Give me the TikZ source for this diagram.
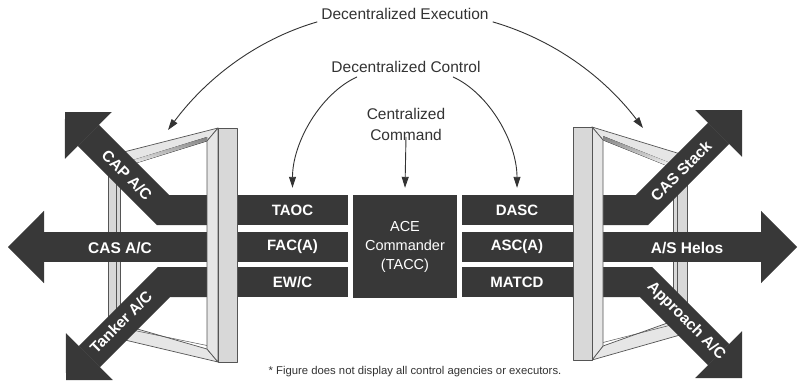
\documentclass[tikz,border=0pt]{standalone}
\usepackage{fontspec}
\setmainfont{Liberation Sans}
\usetikzlibrary{arrows.meta}
\definecolor{band}{HTML}{383838}
\definecolor{framefill}{HTML}{D8D8D8}
\definecolor{framelight}{HTML}{E6E6E6}
\definecolor{frameline}{HTML}{555555}
\definecolor{txt}{HTML}{333333}
\definecolor{shade}{HTML}{666666}
\tikzset{
  bandline/.style={draw=band, line width=30pt, line join=miter, line cap=butt},
  hhead/.style={-{Triangle[length=36pt,width=72pt,line width=0.1pt]}},
  dhead/.style={-{Triangle[length=33pt,width=66pt,line width=0.1pt]}},
  boxnode/.style={fill=band, text=white, minimum height=30pt, inner sep=0pt,
    font=\fontsize{15}{18}\selectfont\bfseries},
  bandlabel/.style={text=white, font=\fontsize{15.5}{18}\selectfont\bfseries, inner sep=0pt},
  toplabel/.style={text=txt, font=\fontsize{15.5}{21}\selectfont, inner sep=1pt, align=center},
  flow/.style={draw=txt, line width=0.9pt, -{Triangle[length=11pt,width=7pt]}},
  face/.style={fill=framefill, draw=frameline, line width=0.7pt, line join=round},
  bevel/.style={fill=framelight, draw=frameline, line width=0.7pt, line join=round},
}
\begin{document}
\begin{tikzpicture}[x=1pt,y=1pt]
\useasboundingbox[fill=white] (0,0) rectangle (798,-384);

% ---------- back parts of the frames ----------
% left
\draw[face] (108,-156) rectangle (120,-336);
\draw[frameline, line width=0.5pt] (116,-158) -- (116,-334);
\draw[bevel] (218,-128) -- (108,-156) -- (120,-168) -- (207,-141) -- cycle;
\fill[shade] (207,-141) -- (120,-168) -- (120,-164) -- (207,-137) -- cycle;
\draw[bevel] (218,-362) -- (108,-336) -- (120,-324) -- (207,-349) -- cycle;
\draw[frameline, line width=0.5pt] (207,-345.5) -- (120,-327.5);
% right
\draw[face] (673,-156) rectangle (687,-333);
\draw[frameline, line width=0.5pt] (677,-158) -- (677,-331);
\draw[bevel] (592,-127) -- (687,-156) -- (673,-168) -- (603,-140) -- cycle;
\fill[shade] (603,-140) -- (673,-168) -- (673,-164) -- (603,-136) -- cycle;
\draw[bevel] (592,-360) -- (687,-333) -- (673,-321) -- (603,-346) -- cycle;
\draw[frameline, line width=0.5pt] (603,-342.5) -- (673,-324.5);

% ---------- central boxes ----------
\node[boxnode, minimum width=111pt] (taoc) at (292.5,-210) {TAOC};
\node[boxnode, minimum width=111pt] (faca) at (292.5,-247) {FAC(A)};
\node[boxnode, minimum width=111pt] (ewc)  at (292.5,-282) {EW/C};
\node[boxnode, minimum width=110pt] (dasc) at (517,-210) {DASC};
\node[boxnode, minimum width=110pt] (asca) at (517,-247) {ASC(A)};
\node[boxnode, minimum width=110pt] (matcd) at (517,-282) {MATCD};
\node[fill=band, text=white, minimum width=104pt, minimum height=103pt, inner sep=0pt,
  align=center, font=\fontsize{14.5}{19}\selectfont] (ace) at (405,-246.5)
  {ACE\\Commander\\(TACC)};

% ---------- executor arrows ----------
\coordinate (capt) at (65,-112);
\coordinate (cast) at (8,-247);
\coordinate (tant) at (66,-380);
\coordinate (stkt) at (742,-110);
\coordinate (helt) at (797,-247);
\coordinate (appt) at (742,-378);
\draw[bandline,dhead] (taoc.west) -- (163,-210) -- (capt);
\draw[bandline,hhead] (faca.west) -- (cast);
\draw[bandline,dhead] (ewc.west) -- (164,-282) -- (tant);
\draw[bandline,dhead] (dasc.east) -- (642,-210) -- (stkt);
\draw[bandline,hhead] (asca.east) -- (helt);
\draw[bandline,dhead] (matcd.east) -- (646,-282) -- (appt);

% ---------- front panels ----------
\draw[bevel] (218,-128) -- (207,-141) -- (207,-349) -- (218,-362) -- cycle;
\draw[face] (218,-128) rectangle (237,-362);
\draw[bevel] (592,-127) -- (603,-140) -- (603,-346) -- (592,-360) -- cycle;
\draw[face] (573,-127) rectangle (592,-360);

% ---------- labels on arrows ----------
\node[bandlabel, rotate=-45] at (127,-175) {CAP A/C};
\node[bandlabel] at (120,-248) {CAS A/C};
\node[bandlabel, rotate=45] at (121,-322) {Tanker A/C};
\node[bandlabel, rotate=45] at (681,-171) {CAS Stack};
\node[bandlabel] at (687,-248) {A/S Helos};
\node[bandlabel, rotate=-45] at (686,-321) {Approach A/C};

% ---------- top labels and flows ----------
\node[toplabel] (exec) at (405,-14) {Decentralized Execution};
\node[toplabel] (ctrl) at (406,-67) {Decentralized Control};
\node[toplabel] (cc) at (406,-124.5) {Centralized\\Command};
\coordinate (el) at (168,-130);
\coordinate (er) at (643,-128);
\draw[flow] ([xshift=-3pt,yshift=-1pt]exec.south west) .. controls (255,-40) and (205,-80) .. (el);
\draw[flow] ([xshift=3pt,yshift=-1pt]exec.south east) .. controls (555,-40) and (605,-78) .. (er);
\draw[flow] ([xshift=-49pt,yshift=-3pt]ctrl.south) .. controls (320,-94) and (292.5,-143) .. ([yshift=7pt]taoc.north);
\draw[flow] ([xshift=47pt,yshift=-3pt]ctrl.south) .. controls (490,-94) and (517,-143) .. ([yshift=7pt]dasc.north);
\draw[flow] ([yshift=5pt]cc.south) -- ([yshift=7pt]ace.north);

% ---------- footnote ----------
\node[text=txt, font=\fontsize{11.3}{13}\selectfont, inner sep=0pt] (note) at (415,-372)
  {* Figure does not display all control agencies or executors.};
\end{tikzpicture}
\end{document}
